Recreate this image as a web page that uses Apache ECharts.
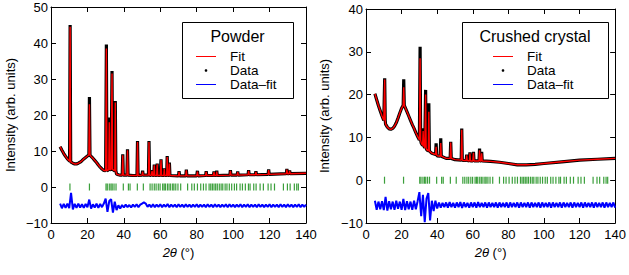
<!DOCTYPE html>
<html><head><meta charset="utf-8">
<script src="https://cdn.jsdelivr.net/npm/echarts@6/dist/echarts.min.js"></script>
<style>html,body{margin:0;padding:0;background:#fff}#c{width:629px;height:275px}</style>
</head><body><div id="c"></div>
<script>
const FONT = '"Liberation Sans", Arial, Helvetica, sans-serif';
const xTickValues = [0, 20, 40, 60, 80, 100, 120, 140];
const panelTitles = ['Powder', 'Crushed crystal'];
const legendNames = ['Fit', 'Data', 'Data\u2013fit'];

// Background (fit baseline) points [2θ, intensity]
const powderBackground = [[5,11.2],[6,10.2],[7,9.3],[8,8.5],[9,7.8],[10,7.3],[11,6.9],[12,6.6],[13,6.4],[14,6.4],[15,6.6],[16,6.9],[17,7.3],[18,7.8],[19,8.2],[20,8.6],[21,8.9],[22,8.5],[23,8.0],[24,7.4],[25,6.8],[26,6.1],[27,5.5],[28,5.0],[29,4.6],[30,4.5],[31,4.6],[32,4.8],[33,4.9],[34,4.8],[35,4.5],[36,3.6],[37,3.4],[38,3.3],[40,3.3],[45,3.2],[50,3.3],[55,3.2],[60,3.2],[65,3.2],[70,3.1],[80,3.1],[90,3.2],[100,3.3],[110,3.4],[120,3.5],[130,3.7],[140,3.8]];
// Peaks [2θ, base, fit top, data top]
const powderPeaks = [[10.5,7.1,44.5,45.0],[21.1,8.9,23.0,25.0],[30.4,4.5,38.5,39.6],[32.0,4.8,18.0,19.3],[33.5,4.9,31.5,32.2],[35.3,4.5,23.5,23.9],[39.4,3.3,8.8,9.1],[42.0,3.3,10.2,10.5],[47.5,3.2,12.5,12.8],[50.3,3.3,4.3,4.5],[53.8,3.3,12.5,12.8],[55.5,3.2,4.5,4.7],[56.7,3.2,6.0,6.2],[58.3,3.2,6.3,6.5],[60.4,3.2,7.5,7.7],[62.2,3.2,5.0,5.2],[63.8,3.2,8.3,8.6],[65.0,3.2,6.5,6.8],[70.3,3.1,4.2,4.4],[74.3,3.1,4.6,4.8],[80.4,3.1,4.3,4.5],[85.2,3.2,4.2,4.4],[89.5,3.2,4.1,4.3],[91.0,3.2,4.3,4.5],[98.5,3.3,4.5,4.7],[102.5,3.3,4.1,4.3],[108.5,3.4,4.5,4.7],[112.5,3.4,4.2,4.4],[119.5,3.5,4.7,4.9],[129.5,3.7,4.8,5.0],[131.0,3.7,4.4,4.6]];
// Residual (data - fit, offset) at 2θ = 5, 6, ..., 140
const powderResidual = [
-4.6,-5.9,-4.7,-5.8,-4.6,-5.9,-1.6,-6.2,-4.7,-5.8,
-4.6,-5.7,-4.8,-5.8,-4.7,-5.6,-3.5,-6.0,-4.8,-5.7,
-4.6,-5.8,-4.7,-5.6,-4.6,-3.2,-6.9,-3.9,-3.4,-7.1,
-4.1,-6.4,-5.1,-6.0,-5.0,-5.7,-4.9,-5.6,-5.0,-5.7,
-4.9,-5.5,-4.8,-5.6,-4.9,-4.6,-4.3,-4.6,-5.5,-4.9,
-5.6,-4.8,-5.6,-4.9,-5.5,-4.8,-5.6,-4.9,-5.5,-4.7,
-5.6,-4.9,-5.5,-4.9,-5.6,-4.8,-5.5,-4.9,-5.6,-4.8,
-5.5,-4.9,-5.6,-4.9,-5.5,-4.8,-5.6,-4.9,-5.5,-4.9,
-5.6,-4.8,-5.5,-4.9,-5.6,-4.8,-5.5,-4.9,-5.6,-4.9,
-5.5,-4.8,-5.6,-4.8,-5.5,-4.9,-5.6,-4.9,-5.5,-4.8,
-5.6,-4.9,-5.5,-4.8,-5.6,-4.9,-5.5,-4.9,-5.6,-4.8,
-5.5,-4.9,-5.6,-4.9,-5.5,-4.8,-5.6,-4.9,-5.5,-4.9,
-5.6,-4.8,-5.5,-4.9,-5.6,-4.8,-5.5,-4.9,-5.6,-4.9,
-5.5,-4.8,-5.6,-4.9,-5.5,-4.9];

const crystalBackground = [[5,20.2],[6,18.8],[7,17.4],[8,16.2],[9,15.0],[10,14.0],[11,13.1],[12,12.4],[13,12.0],[14,11.9],[15,12.1],[16,12.6],[17,13.4],[18,14.5],[19,15.7],[20,16.8],[21,17.5],[22,17.0],[23,16.0],[24,15.0],[25,14.0],[26,13.0],[27,12.1],[28,11.1],[29,10.2],[30,9.4],[31,8.7],[32,8.1],[33,7.6],[34,7.2],[35,6.8],[37,6.3],[40,5.7],[45,5.1],[50,4.8],[55,4.6],[60,4.5],[65,4.5],[70,4.4],[75,4.2],[80,3.9],[85,3.6],[90,3.6],[95,3.7],[100,3.9],[110,4.3],[120,4.7],[130,4.9],[140,5.1]];
const crystalPeaks = [[10.5,13.9,23.5,23.8],[21.2,17.5,21.7,23.6],[30.4,9.4,28.5,31.2],[32.1,8.1,11.5,12.1],[33.5,7.5,20.0,21.1],[35.3,6.8,16.0,18.0],[39.4,6.0,7.8,8.6],[42.0,5.6,8.7,9.8],[47.6,5.1,8.8,9.0],[53.8,4.7,11.8,12.1],[56.6,4.6,5.8,6.0],[58.4,4.5,6.3,6.5],[60.4,4.5,6.4,6.6],[63.8,4.5,7.0,7.4],[65.0,4.5,6.3,6.6]];
const crystalResidual = [
-4.8,-6.9,-5.0,-6.8,-4.9,-7.0,-3.9,-7.1,-4.9,-6.8,
-5.0,-6.9,-4.8,-6.7,-5.0,-6.9,-4.4,-7.0,-4.9,-6.8,
-5.0,-6.9,-4.8,-6.8,-4.9,-2.8,-8.4,-3.4,-9.8,-4.3,
-3.0,-9.4,-4.8,-7.2,-4.8,-6.6,-5.2,-6.4,-5.3,-6.3,
-5.2,-6.4,-5.1,-6.3,-5.3,-6.4,-5.2,-6.3,-5.1,-6.5,
-5.2,-6.3,-5.3,-6.4,-5.2,-6.3,-5.2,-6.4,-5.1,-6.3,
-5.3,-6.3,-5.2,-6.4,-5.2,-6.3,-5.3,-6.3,-5.2,-6.4,
-5.2,-6.3,-5.3,-6.3,-5.2,-6.4,-5.2,-6.3,-5.3,-6.3,
-5.2,-6.4,-5.2,-6.3,-5.3,-6.3,-5.2,-6.4,-5.2,-6.3,
-5.3,-6.3,-5.2,-6.4,-5.2,-6.3,-5.3,-6.3,-5.2,-6.4,
-5.2,-6.3,-5.3,-6.3,-5.2,-6.4,-5.2,-6.3,-5.3,-6.3,
-5.2,-6.4,-5.2,-6.3,-5.3,-6.3,-5.2,-6.4,-5.2,-6.3,
-5.3,-6.3,-5.2,-6.4,-5.2,-6.3,-5.3,-6.3,-5.2,-6.4,
-5.2,-6.3,-5.3,-6.3,-5.2,-6.4];
const residualStart = 5;

// Bragg reflection positions (2θ)
const reflections = [10.4,21.1,30.2,30.9,32.0,32.9,33.6,34.6,35.7,39.7,42.5,43.4,47.4,50.7,54.4,55.5,56.7,57.7,58.9,59.9,61.3,62.1,62.8,63.9,64.8,65.7,66.8,67.5,68.5,69.7,71.2,75.0,77.3,78.7,80.4,82.2,83.7,85.1,86.8,87.7,88.6,89.5,90.4,91.3,92.4,93.4,94.3,95.6,96.6,97.9,99.2,100.7,101.9,103.8,105.1,106.7,108.4,109.3,111.3,112.6,114.8,116.6,119.2,120.8,122.7,127.6,129.8,131.3,133.6,134.9,135.8];

const HW = 0.3;
function curve(bg, peaks, col) {
  const pts = bg.filter(p => !peaks.some(k => Math.abs(p[0]-k[0]) < HW)).map(p => [p[0], p[1]]);
  peaks.forEach(k => { pts.push([k[0]-HW, k[1]], [k[0], k[col]], [k[0]+HW, k[1]]); });
  pts.sort((a,b) => a[0]-b[0]);
  return pts;
}
function resid(arr) { return arr.map((v,i) => [residualStart + i, v]); }

const grids = [{left:51, top:7, width:255, height:216},{left:366, top:9, width:255, height:214}];
const yMax = [50, 40];
const axLine = {show:true, onZero:false, lineStyle:{color:'#000', width:1}};
const axTick = {show:true, inside:true, length:5, lineStyle:{color:'#000', width:1}};
const xAxes = [], yAxes = [];
[0,1].forEach(g => {
  xAxes.push({gridIndex:g, type:'value', min:0, max:140, interval:20, position:'bottom',
    axisLine:axLine, axisTick:axTick, splitLine:{show:false},
    axisLabel:{show:true, margin:5, color:'#000', fontSize:13, fontFamily:FONT},
    name:'{it|2\u03b8} (\u00b0)', nameLocation:'middle', nameGap:23,
    nameTextStyle:{color:'#000', fontSize:13, fontFamily:FONT, rich:{it:{fontStyle:'italic', fontSize:13, fontFamily:FONT, color:'#000'}}}});
  xAxes.push({gridIndex:g, type:'value', min:0, max:140, interval:20, position:'top',
    axisLine:axLine, axisTick:axTick, splitLine:{show:false}, axisLabel:{show:false}});
  yAxes.push({gridIndex:g, type:'value', min:-10, max:yMax[g], interval:10, position:'left',
    axisLine:axLine, axisTick:axTick, splitLine:{show:false},
    axisLabel:{show:true, margin:3, color:'#000', fontSize:13, fontFamily:FONT, formatter: v => String(v).replace('-', '\u2212')},
    name:'Intensity (arb. units)', nameLocation:'middle', nameGap:g ? 35 : 34,
    nameTextStyle:{color:'#000', fontSize:13, fontFamily:FONT}});
  yAxes.push({gridIndex:g, type:'value', min:-10, max:yMax[g], interval:10, position:'right',
    axisLine:axLine, axisTick:axTick, splitLine:{show:false}, axisLabel:{show:false}});
});

const panels = [
  {bg:powderBackground, peaks:powderPeaks, res:powderResidual},
  {bg:crystalBackground, peaks:crystalPeaks, res:crystalResidual}
];
const series = [];
panels.forEach((p, g) => {
  const xi = g*2, yi = g*2;
  series.push({type:'scatter', name:'Reflections', xAxisIndex:xi, yAxisIndex:yi, data:reflections.map(r => [r, 0]),
    symbol:'rect', symbolSize:[1.2, 7], itemStyle:{color:'#0a870a'}, silent:true});
  series.push({type:'line', name:legendNames[2], xAxisIndex:xi, yAxisIndex:yi, data:resid(p.res),
    showSymbol:false, lineStyle:{color:'#0000ff', width:2}, silent:true});
  series.push({type:'line', name:legendNames[1], xAxisIndex:xi, yAxisIndex:yi, data:curve(p.bg, p.peaks, 3),
    showSymbol:false, lineStyle:{color:'#000', width:3.2}, silent:true});
  series.push({type:'line', name:legendNames[0], xAxisIndex:xi, yAxisIndex:yi, data:curve(p.bg, p.peaks, 2),
    showSymbol:false, lineStyle:{color:'#ff0000', width:1.4}, silent:true});
});

function legendBox(x, y, w, h, title, lx, tx) {
  const tf = '16px ' + FONT, lf = '13.5px ' + FONT;
  return [
    {type:'rect', shape:{x:x+0.5, y:y+0.5, width:w, height:h}, style:{fill:'#fff', stroke:'#000', lineWidth:1}, z:100},
    {type:'text', x:x + w/2, y:36, style:{text:title, font:tf, fill:'#000', align:'center', verticalAlign:'middle'}, z:101},
    {type:'line', shape:{x1:lx, y1:56.5, x2:lx+20, y2:56.5}, style:{stroke:'#ff0000', lineWidth:1}, z:101},
    {type:'text', x:tx, y:56.5, style:{text:legendNames[0], font:lf, fill:'#000', verticalAlign:'middle'}, z:101},
    {type:'circle', shape:{cx:lx+10, cy:70.5, r:1.3}, style:{fill:'#000'}, z:101},
    {type:'text', x:tx, y:70.5, style:{text:legendNames[1], font:lf, fill:'#000', verticalAlign:'middle'}, z:101},
    {type:'line', shape:{x1:lx, y1:84.5, x2:lx+20, y2:84.5}, style:{stroke:'#0000ff', lineWidth:1}, z:101},
    {type:'text', x:tx, y:84.5, style:{text:legendNames[2], font:lf, fill:'#000', verticalAlign:'middle'}, z:101}
  ];
}

const chart = echarts.init(document.getElementById('c'), null, {renderer:'svg'});
chart.setOption({
  animation:false,
  backgroundColor:'#fff',
  grid:grids.map(g => Object.assign({containLabel:false}, g)),
  xAxis:xAxes, yAxis:yAxes, series:series,
  graphic:[].concat(legendBox(182, 22, 111, 76, panelTitles[0], 196, 230), legendBox(462, 22, 146, 76, panelTitles[1], 493, 527))
});
</script></body></html>
